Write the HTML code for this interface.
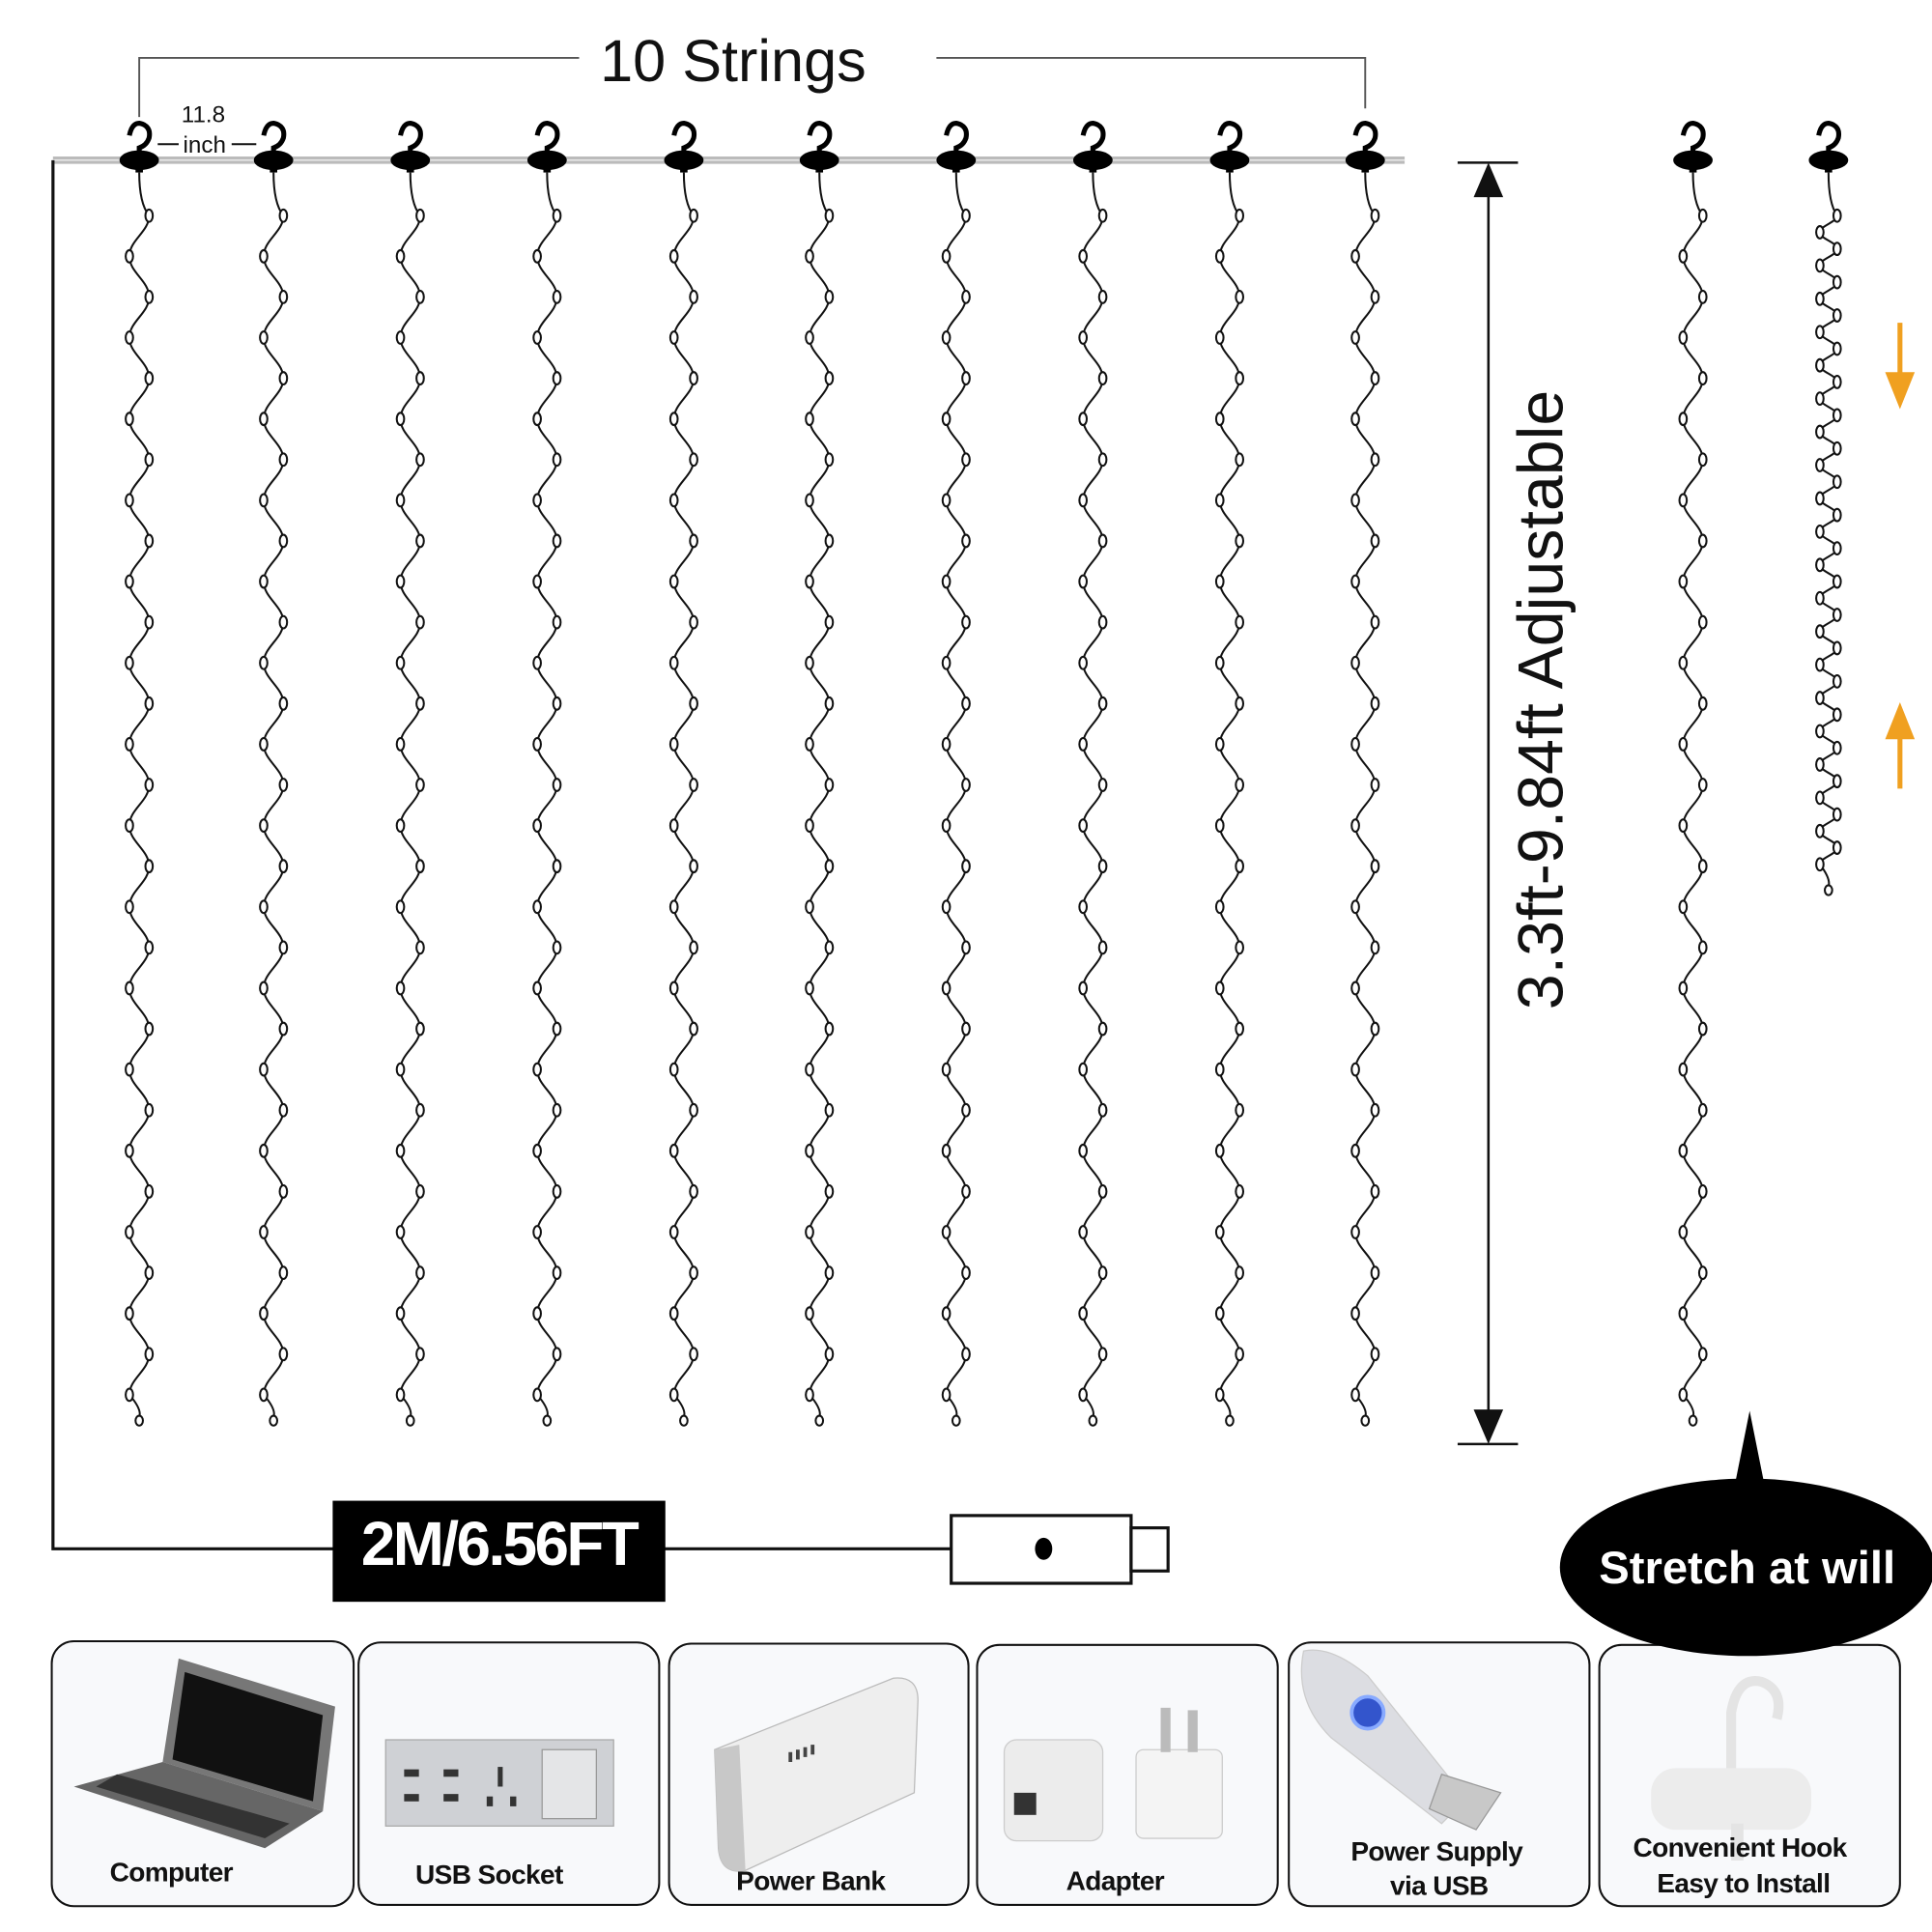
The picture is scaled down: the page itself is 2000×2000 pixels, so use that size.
<!DOCTYPE html>
<html><head><meta charset="utf-8"><style>
html,body{margin:0;padding:0;background:#fff;}
svg{display:block;}
text{font-family:"Liberation Sans",sans-serif;}
.lbl{font-weight:bold;font-size:22px;fill:#111;text-anchor:middle;letter-spacing:-0.5px;}
</style></head><body>
<svg id="s" width="2000" height="2000" viewBox="0 0 1568 1568" xmlns="http://www.w3.org/2000/svg">
<rect width="1568" height="1568" fill="#fff"/>
<path d="M113 95 V47 H470 M760 47 H1108 V88" fill="none" stroke="#555" stroke-width="1.5"/>
<text x="595" y="66" font-size="48" text-anchor="middle" fill="#111">10 Strings</text>
<text x="165" y="99" font-size="19" text-anchor="middle" fill="#111">11.8</text>
<text x="166" y="124" font-size="19" text-anchor="middle" fill="#111">inch</text>
<path d="M128 117 H145 M188 117 H208" stroke="#111" stroke-width="1.5"/>
<rect x="43" y="127" width="1097" height="6" fill="#bbb"/>
<line x1="43" y1="130" x2="1140" y2="130" stroke="#eee" stroke-width="1"/>
<g id="strings" fill="none" stroke="#111" stroke-width="1.6"></g>
<g id="hooks"></g>
<path d="M43 130 V1257 H772" fill="none" stroke="#111" stroke-width="2.5"/>
<rect x="270" y="1218" width="270" height="82" fill="#000"/>
<text x="405" y="1270" font-size="50" font-weight="bold" fill="#fff" text-anchor="middle" letter-spacing="-2">2M/6.56FT</text>
<rect x="772" y="1230" width="146" height="55" fill="#fff" stroke="#111" stroke-width="2.5"/>
<rect x="918" y="1240" width="30" height="35" fill="#fff" stroke="#111" stroke-width="2.5"/>
<ellipse cx="847" cy="1257" rx="7" ry="9" fill="#000"/>
<path d="M1183 132 H1232 M1183 1172 H1232 M1208 150 V1155" stroke="#111" stroke-width="2"/>
<path d="M1196 160 L1208 132 L1220 160 Z M1196 1144 L1208 1172 L1220 1144 Z" fill="#111"/>
<text transform="translate(1268,568) rotate(-90)" font-size="52" text-anchor="middle" fill="#111">3.3ft-9.84ft Adjustable</text>
<path d="M1542 262 V310" stroke="#f0a020" stroke-width="4"/>
<path d="M1530 302 L1542 332 L1554 302 Z" fill="#f0a020"/>
<path d="M1542 592 V640" stroke="#f0a020" stroke-width="4"/>
<path d="M1530 600 L1542 570 L1554 600 Z" fill="#f0a020"/>
<g fill="#f8f9fb" stroke="#111" stroke-width="1.6">
<rect x="42" y="1332" width="245" height="215" rx="18"/>
<rect x="291" y="1333" width="244" height="213" rx="18"/>
<rect x="543" y="1334" width="243" height="212" rx="18"/>
<rect x="793" y="1335" width="244" height="211" rx="18"/>
<rect x="1046" y="1333" width="244" height="214" rx="18"/>
<rect x="1298" y="1335" width="244" height="212" rx="18"/>
</g>
<path d="M1408 1205 L1420 1145 L1432 1205 Z" fill="#000"/>
<ellipse cx="1418" cy="1272" rx="152" ry="72" fill="#000"/>
<text x="1418" y="1285" font-size="37" font-weight="bold" fill="#fff" text-anchor="middle">Stretch at will</text>
<path d="M145 1346 L272 1385 L262 1470 L132 1430 Z" fill="#777"/>
<path d="M150 1357 L262 1392 L254 1462 L140 1428 Z" fill="#111"/>
<path d="M132 1430 L262 1470 L215 1500 L60 1450 Z" fill="#666"/>
<path d="M95 1440 L235 1480 L215 1492 L78 1450 Z" fill="#333"/>
<rect x="313" y="1412" width="185" height="70" fill="#cfd1d5" stroke="#aaa"/>
<rect x="440" y="1420" width="44" height="56" fill="#e4e5e7" stroke="#999"/>
<g fill="#333"><rect x="328" y="1436" width="12" height="6"/><rect x="360" y="1436" width="12" height="6"/><rect x="328" y="1456" width="12" height="6"/><rect x="360" y="1456" width="12" height="6"/><rect x="404" y="1434" width="4" height="16"/><rect x="395" y="1458" width="5" height="8"/><rect x="414" y="1458" width="5" height="8"/></g>
<path d="M580 1420 L725 1362 Q745 1360 745 1380 L742 1455 L605 1518 Q585 1522 583 1500 Z" fill="#eee" stroke="#bbb"/>
<path d="M580 1420 L600 1416 L605 1518 Q585 1522 583 1500 Z" fill="#c8c8c8"/>
<g fill="#444"><rect x="640" y="1422" width="3" height="8"/><rect x="646" y="1420" width="3" height="8"/><rect x="652" y="1418" width="3" height="8"/><rect x="658" y="1416" width="3" height="8"/></g>
<rect x="815" y="1412" width="80" height="82" rx="10" fill="#ececec" stroke="#ccc"/>
<rect x="823" y="1455" width="18" height="18" fill="#333"/>
<rect x="922" y="1420" width="70" height="72" rx="6" fill="#f4f4f4" stroke="#ccc"/>
<rect x="942" y="1386" width="8" height="36" fill="#bbb"/><rect x="964" y="1388" width="8" height="34" fill="#bbb"/>
<path d="M1058 1340 Q1080 1335 1110 1360 L1190 1460 L1170 1480 L1080 1410 Q1050 1380 1058 1340 Z" fill="#dcdde2" stroke="#ccc"/>
<circle cx="1110" cy="1390" r="13" fill="#3355cc" stroke="#88aaff" stroke-width="3"/>
<path d="M1170 1440 L1218 1455 L1198 1485 L1160 1468 Z" fill="#c8c8c8" stroke="#999"/>
<path d="M1405 1440 V1390 Q1410 1360 1430 1365 Q1448 1372 1442 1395" fill="none" stroke="#e4e4e4" stroke-width="8"/>
<rect x="1340" y="1435" width="130" height="50" rx="20" fill="#ececec"/>
<rect x="1405" y="1480" width="10" height="30" fill="#e4e4e4"/>
<text class="lbl" x="139" y="1527">Computer</text>
<text class="lbl" x="397" y="1529">USB Socket</text>
<text class="lbl" x="658" y="1534">Power Bank</text>
<text class="lbl" x="905" y="1534">Adapter</text>
<text class="lbl" x="1166" y="1510">Power Supply</text>
<text class="lbl" x="1168" y="1538">via USB</text>
<text class="lbl" x="1412" y="1507">Convenient Hook</text>
<text class="lbl" x="1415" y="1536">Easy to Install</text>
</svg>
<script>
var NS="http://www.w3.org/2000/svg";
var sg=document.getElementById('strings'), hg=document.getElementById('hooks');
function el(t,a,p){var e=document.createElementNS(NS,t);for(var k in a)e.setAttribute(k,a[k]);p.appendChild(e);return e;}
function string(x,y0,y1,step,amp){
  var d="M"+x+" "+(y0-10)+" Q"+x+" "+(y0+15)+" "+(x+amp)+" "+(y0+25);
  var bulbs=[[x+amp,y0+25]];var s=-1;var y=y0+25;
  while(y+step<=y1){var py=y;y+=step;var px=x-s*amp;d+=" C"+px+" "+(py+step*0.4)+" "+(x+s*amp)+" "+(y-step*0.4)+" "+(x+s*amp)+" "+y;bulbs.push([x+s*amp,y]);s=-s;}
  d+=" Q"+(x+s*amp*0.3)+" "+(y+12)+" "+x+" "+(y+18);
  el('path',{d:d},sg);
  bulbs.forEach(function(b){el('ellipse',{cx:b[0],cy:b[1],rx:3,ry:5,fill:'#fff'},sg);});
  el('ellipse',{cx:x,cy:y+21,rx:3,ry:4,fill:'#fff'},sg);
}
function hook(x){
  el('ellipse',{cx:x,cy:130,rx:16,ry:8,fill:'#000'},hg);
  el('rect',{x:x-3,y:130,width:6,height:10,fill:'#000'},hg);
  el('path',{d:"M"+(x-8)+" 110 Q"+(x-6)+" 100 "+x+" 100 Q"+(x+10)+" 102 "+(x+8)+" 112 Q"+(x+6)+" 118 "+(x)+" 120 V126",fill:'none',stroke:'#000','stroke-width':4},hg);
}
[113,222,333,444,555,665,776,887,998,1108,1374].forEach(function(x){string(x,150,1150,33,8);hook(x);});
string(1484,150,712,13.5,7);hook(1484);
</script>
</body></html>
